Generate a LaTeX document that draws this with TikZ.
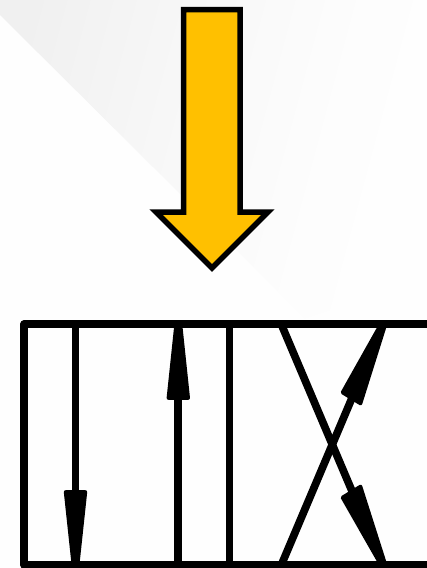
\documentclass[tikz,border=0pt]{standalone}
\definecolor{amberfill}{HTML}{FFC000}
\definecolor{paperbg}{HTML}{FEFEFE}
\pgfdeclarehorizontalshading{bgfade}{100bp}{color(0bp)=(black!6.5); color(25bp)=(black!6); color(45bp)=(black!3); color(62bp)=(black!1); color(72bp)=(paperbg); color(100bp)=(paperbg)}
\tikzset{
  symline/.style={line width=7.7pt,line join=round,line cap=butt,black},
  headtip/.style={fill=black,draw=black,line width=3.6pt,line join=round},
  bigarrow/.style={fill=amberfill,draw=black,line width=5.5pt,line join=miter,miter limit=10}
}
\begin{document}
\begin{tikzpicture}[x=1pt,y=-1pt]
\useasboundingbox (0,0) rectangle (427,568);
\clip (0,0) rectangle (427,568);
\fill[paperbg] (0,0) rectangle (427,568);
\begin{scope}
\clip (0,15) -- (305,318) -- (330,310) -- (420,0) -- (0,0) -- cycle;
\shade[shading=bgfade,shading angle=-15] (-20,-20) rectangle (430,330);
\end{scope}
% valve body
\draw[symline] (432,324.3) -- (24.3,324.3) -- (24.3,565) -- (432,565);
\draw[symline] (75.5,324.3) -- (75.5,500);
\draw[symline] (178.3,565) -- (178.3,395);
\draw[symline] (229.5,324.3) -- (229.5,565);
\draw[symline] (281.3,324.3) -- (352.4,492);
\draw[symline] (281.3,565) -- (352.4,397);
% arrowheads
\draw[headtip] (73.4,565) -- (65.6,492) -- (85.4,492) -- (77.6,565) -- cycle;
\draw[headtip] (176.2,324) -- (168.4,398) -- (188.2,398) -- (180.4,324) -- cycle;
\draw[headtip] (381,324) -- (342.5,392.5) -- (360.5,403.5) -- (385.5,324) -- cycle;
\draw[headtip] (381,565) -- (342.5,497.5) -- (360.5,486.5) -- (385.5,565) -- cycle;
% big arrow
\draw[bigarrow] (183.6,9.5) -- (240,9.5) -- (240,212) -- (268,212) -- (212,268) -- (156,212) -- (183.6,212) -- cycle;
\end{tikzpicture}
\end{document}
